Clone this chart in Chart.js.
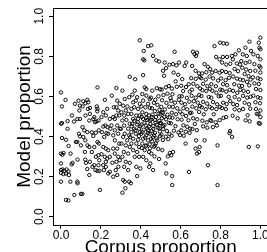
<!DOCTYPE html>
<html>
<head>
<meta charset="utf-8">
<script src="https://cdn.jsdelivr.net/npm/chart.js@4/dist/chart.umd.min.js"></script>
<style>
html,body{margin:0;padding:0;background:#fff;overflow:hidden;width:267px;height:252px;}
#c{display:block;}
</style>
</head>
<body>
<canvas id="c" width="271" height="262"></canvas>
<script>
// Tick labels
const xTickValues = [0, 0.2, 0.4, 0.6, 0.8, 1.0];
const yTickValues = [0, 0.2, 0.4, 0.6, 0.8, 1.0];
const xTitle = "Corpus proportion";
const yTitle = "Model proportion";

// [corpus proportion, model proportion] pairs, grouped by corpus-proportion band
const band00 = [[0.000,0.620],[0.005,0.550],[0.023,0.583],[0.005,0.467],[0.000,0.464],[0.033,0.477],[0.033,0.439],[0.005,0.393],[0.025,0.384],[0.000,0.315],[0.007,0.309],[0.013,0.318],[0.000,0.266],[0.008,0.236],[0.017,0.229],[0.028,0.236],[0.000,0.219],[0.012,0.213],[0.025,0.216],[0.038,0.226],[0.040,0.208],[0.000,0.175],[0.047,0.175],[0.025,0.084],[0.037,0.081],[0.048,0.315],[0.038,0.353],[0.000,0.233]];
const band05 = [[0.055,0.505],[0.065,0.475],[0.070,0.563],[0.088,0.579],[0.092,0.530],[0.095,0.554],[0.082,0.487],[0.095,0.488],[0.058,0.269],[0.053,0.261],[0.067,0.109],[0.082,0.175],[0.083,0.167],[0.100,0.114],[0.107,0.114],[0.082,0.373],[0.090,0.414],[0.095,0.401],[0.100,0.356],[0.083,0.285],[0.075,0.373]];
const band10 = [[0.112,0.576],[0.122,0.566],[0.132,0.583],[0.137,0.571],[0.108,0.550],[0.135,0.538],[0.145,0.543],[0.123,0.505],[0.145,0.513],[0.142,0.480],[0.132,0.422],[0.117,0.431],[0.112,0.398],[0.122,0.381],[0.133,0.356],[0.142,0.348],[0.122,0.285],[0.125,0.269],[0.145,0.274],[0.142,0.208],[0.132,0.238],[0.120,0.323],[0.108,0.447]];
const band15 = [[0.183,0.645],[0.180,0.550],[0.183,0.538],[0.182,0.526],[0.167,0.497],[0.162,0.488],[0.178,0.475],[0.188,0.480],[0.170,0.472],[0.155,0.421],[0.162,0.403],[0.175,0.419],[0.190,0.431],[0.183,0.373],[0.190,0.365],[0.167,0.348],[0.188,0.307],[0.175,0.299],[0.192,0.282],[0.155,0.323],[0.173,0.233],[0.183,0.229],[0.193,0.229],[0.195,0.134],[0.167,0.257],[0.188,0.257],[0.158,0.249]];
const band20 = [[0.220,0.583],[0.232,0.538],[0.212,0.521],[0.203,0.497],[0.225,0.505],[0.223,0.455],[0.212,0.450],[0.233,0.447],[0.245,0.488],[0.205,0.422],[0.228,0.417],[0.217,0.398],[0.237,0.414],[0.248,0.439],[0.212,0.348],[0.225,0.340],[0.237,0.332],[0.203,0.312],[0.220,0.299],[0.232,0.290],[0.245,0.299],[0.212,0.257],[0.225,0.274],[0.237,0.216],[0.245,0.224],[0.225,0.249],[0.215,0.233]];
const band25 = [[0.278,0.642],[0.255,0.604],[0.282,0.579],[0.265,0.546],[0.278,0.546],[0.287,0.530],[0.295,0.563],[0.262,0.497],[0.270,0.488],[0.278,0.505],[0.292,0.505],[0.253,0.455],[0.270,0.431],[0.282,0.455],[0.295,0.439],[0.262,0.406],[0.287,0.414],[0.270,0.381],[0.262,0.340],[0.282,0.340],[0.292,0.365],[0.270,0.315],[0.287,0.299],[0.258,0.269],[0.278,0.274],[0.295,0.282],[0.275,0.233],[0.288,0.249],[0.262,0.200],[0.282,0.208]];
const band30 = [[0.308,0.629],[0.320,0.587],[0.342,0.596],[0.312,0.554],[0.333,0.550],[0.325,0.530],[0.303,0.521],[0.317,0.505],[0.337,0.513],[0.308,0.480],[0.328,0.483],[0.345,0.464],[0.317,0.455],[0.300,0.439],[0.337,0.439],[0.320,0.414],[0.312,0.398],[0.342,0.406],[0.332,0.381],[0.303,0.365],[0.325,0.356],[0.345,0.348],[0.315,0.323],[0.337,0.315],[0.308,0.299],[0.325,0.274],[0.345,0.269],[0.317,0.249],[0.337,0.233],[0.312,0.183],[0.320,0.175],[0.308,0.120],[0.323,0.142],[0.342,0.175],[0.350,0.167],[0.345,0.698]];
const band35 = [[0.372,0.686],[0.358,0.609],[0.370,0.629],[0.382,0.596],[0.362,0.571],[0.375,0.579],[0.395,0.563],[0.353,0.538],[0.367,0.546],[0.387,0.538],[0.353,0.513],[0.378,0.505],[0.395,0.505],[0.362,0.488],[0.387,0.488],[0.358,0.464],[0.382,0.460],[0.367,0.439],[0.392,0.439],[0.353,0.422],[0.375,0.414],[0.395,0.422],[0.362,0.389],[0.387,0.384],[0.353,0.365],[0.378,0.365],[0.392,0.348],[0.362,0.332],[0.382,0.323],[0.370,0.299],[0.392,0.299],[0.378,0.249],[0.398,0.241],[0.382,0.203],[0.395,0.880],[0.415,0.827],[0.412,0.785],[0.418,0.780],[0.412,0.706]];
const band40 = [[0.437,0.851],[0.453,0.855],[0.420,0.645],[0.428,0.637],[0.408,0.612],[0.428,0.604],[0.445,0.587],[0.412,0.579],[0.437,0.563],[0.403,0.550],[0.423,0.546],[0.445,0.543],[0.408,0.521],[0.428,0.513],[0.442,0.505],[0.412,0.488],[0.432,0.483],[0.445,0.480],[0.403,0.460],[0.425,0.455],[0.442,0.450],[0.415,0.434],[0.437,0.431],[0.403,0.414],[0.428,0.406],[0.445,0.414],[0.412,0.389],[0.437,0.381],[0.408,0.365],[0.428,0.356],[0.445,0.361],[0.420,0.332],[0.442,0.323],[0.453,0.315],[0.412,0.299],[0.428,0.282],[0.448,0.266],[0.462,0.233],[0.442,0.249]];
const bandCore = [[0.385,0.472],[0.398,0.451],[0.405,0.498],[0.418,0.467],[0.427,0.493],[0.433,0.441],[0.448,0.463],[0.455,0.497],[0.463,0.438],[0.472,0.482],[0.481,0.459],[0.489,0.513],[0.497,0.467],[0.505,0.521],[0.512,0.452],[0.518,0.498],[0.391,0.402],[0.409,0.421],[0.422,0.395],[0.436,0.418],[0.451,0.389],[0.467,0.407],[0.483,0.381],[0.494,0.441],[0.372,0.431],[0.368,0.478],[0.355,0.451],[0.347,0.397],[0.425,0.352],[0.446,0.341],[0.471,0.355],[0.405,0.343]];
const band45 = [[0.462,0.802],[0.478,0.780],[0.492,0.774],[0.458,0.629],[0.481,0.641],[0.497,0.636],[0.451,0.594],[0.473,0.583],[0.489,0.601],[0.466,0.568],[0.484,0.558],[0.456,0.541],[0.471,0.527],[0.494,0.533],[0.459,0.509],[0.477,0.497],[0.499,0.511],[0.452,0.484],[0.474,0.469],[0.493,0.478],[0.463,0.452],[0.485,0.444],[0.455,0.429],[0.471,0.418],[0.496,0.425],[0.461,0.396],[0.479,0.391],[0.497,0.402],[0.457,0.376],[0.476,0.366],[0.466,0.349],[0.488,0.338],[0.469,0.301],[0.492,0.288]];
const band50 = [[0.520,0.769],[0.512,0.728],[0.517,0.703],[0.527,0.741],[0.544,0.758],[0.505,0.634],[0.526,0.645],[0.541,0.652],[0.514,0.607],[0.534,0.614],[0.549,0.592],[0.507,0.581],[0.529,0.568],[0.503,0.548],[0.521,0.535],[0.543,0.549],[0.511,0.519],[0.534,0.509],[0.506,0.491],[0.527,0.486],[0.546,0.496],[0.502,0.466],[0.519,0.457],[0.541,0.468],[0.513,0.437],[0.531,0.428],[0.504,0.409],[0.526,0.399],[0.544,0.413],[0.511,0.383],[0.538,0.387],[0.508,0.332],[0.525,0.266],[0.528,0.216],[0.536,0.301],[0.546,0.318]];
const band55 = [[0.570,0.823],[0.562,0.761],[0.579,0.755],[0.592,0.769],[0.565,0.719],[0.575,0.675],[0.588,0.708],[0.556,0.639],[0.581,0.648],[0.559,0.611],[0.594,0.601],[0.553,0.578],[0.572,0.569],[0.591,0.583],[0.561,0.548],[0.583,0.541],[0.556,0.519],[0.577,0.511],[0.597,0.524],[0.559,0.494],[0.585,0.486],[0.551,0.466],[0.574,0.452],[0.566,0.429],[0.589,0.420],[0.555,0.404],[0.597,0.407],[0.562,0.323],[0.553,0.307],[0.558,0.203],[0.558,0.158]];
const band60 = [[0.620,0.752],[0.628,0.769],[0.608,0.686],[0.603,0.653],[0.627,0.647],[0.641,0.661],[0.613,0.627],[0.646,0.624],[0.606,0.601],[0.631,0.593],[0.604,0.569],[0.622,0.561],[0.644,0.574],[0.614,0.541],[0.633,0.536],[0.609,0.511],[0.627,0.503],[0.647,0.517],[0.605,0.484],[0.639,0.481],[0.614,0.456],[0.633,0.449],[0.603,0.431],[0.626,0.424],[0.645,0.418],[0.616,0.404],[0.625,0.365],[0.642,0.224],[0.648,0.439]];
const band65 = [[0.662,0.823],[0.682,0.818],[0.670,0.810],[0.678,0.802],[0.658,0.752],[0.675,0.728],[0.692,0.715],[0.653,0.691],[0.676,0.688],[0.696,0.697],[0.664,0.663],[0.684,0.651],[0.657,0.634],[0.698,0.639],[0.655,0.603],[0.676,0.594],[0.693,0.607],[0.666,0.576],[0.686,0.569],[0.659,0.549],[0.679,0.541],[0.697,0.552],[0.654,0.519],[0.693,0.523],[0.663,0.491],[0.683,0.486],[0.671,0.463],[0.659,0.438],[0.681,0.432],[0.675,0.340],[0.682,0.315],[0.692,0.323],[0.678,0.381],[0.695,0.348]];
const band70 = [[0.720,0.761],[0.737,0.748],[0.708,0.715],[0.729,0.721],[0.748,0.736],[0.703,0.691],[0.726,0.684],[0.745,0.699],[0.713,0.663],[0.734,0.651],[0.709,0.631],[0.729,0.627],[0.747,0.638],[0.704,0.602],[0.741,0.597],[0.713,0.573],[0.733,0.564],[0.706,0.546],[0.726,0.536],[0.746,0.548],[0.716,0.511],[0.709,0.479],[0.731,0.471],[0.749,0.482],[0.713,0.451],[0.734,0.444],[0.737,0.257],[0.720,0.381]];
const band75 = [[0.770,0.851],[0.798,0.868],[0.815,0.865],[0.832,0.863],[0.778,0.797],[0.795,0.785],[0.758,0.719],[0.776,0.727],[0.796,0.718],[0.763,0.690],[0.788,0.679],[0.754,0.661],[0.777,0.651],[0.759,0.628],[0.779,0.619],[0.799,0.634],[0.754,0.594],[0.791,0.601],[0.763,0.572],[0.783,0.561],[0.757,0.541],[0.779,0.537],[0.797,0.548],[0.766,0.511],[0.754,0.478],[0.776,0.471],[0.796,0.482],[0.782,0.455],[0.785,0.356],[0.785,0.158],[0.762,0.447]];
const band80 = [[0.812,0.797],[0.833,0.797],[0.857,0.802],[0.808,0.769],[0.829,0.759],[0.849,0.763],[0.807,0.727],[0.827,0.722],[0.846,0.717],[0.803,0.690],[0.826,0.681],[0.843,0.693],[0.813,0.661],[0.833,0.656],[0.809,0.631],[0.829,0.624],[0.846,0.633],[0.802,0.603],[0.841,0.598],[0.813,0.569],[0.831,0.562],[0.849,0.577],[0.807,0.542],[0.827,0.537],[0.815,0.493],[0.828,0.497],[0.845,0.417],[0.848,0.427]];
const band85 = [[0.875,0.810],[0.892,0.830],[0.862,0.785],[0.882,0.764],[0.898,0.759],[0.871,0.737],[0.888,0.726],[0.863,0.699],[0.883,0.689],[0.899,0.684],[0.869,0.661],[0.893,0.654],[0.863,0.628],[0.884,0.618],[0.899,0.633],[0.871,0.597],[0.893,0.585],[0.864,0.562],[0.883,0.557],[0.871,0.536],[0.894,0.531],[0.861,0.504],[0.886,0.491],[0.858,0.398]];
const band90 = [[0.925,0.843],[0.945,0.873],[0.912,0.810],[0.932,0.802],[0.953,0.827],[0.904,0.776],[0.926,0.767],[0.946,0.773],[0.909,0.743],[0.929,0.734],[0.949,0.727],[0.921,0.712],[0.941,0.701],[0.913,0.681],[0.933,0.673],[0.951,0.684],[0.908,0.652],[0.944,0.655],[0.916,0.628],[0.938,0.623],[0.913,0.603],[0.934,0.594],[0.951,0.598],[0.921,0.569],[0.943,0.561],[0.913,0.537],[0.949,0.539],[0.936,0.506],[0.926,0.481],[0.946,0.476],[0.942,0.348]];
const band95 = [[1.000,0.893],[0.992,0.868],[0.995,0.843],[1.000,0.835],[0.965,0.810],[0.987,0.802],[1.000,0.785],[0.970,0.761],[0.995,0.752],[1.000,0.744],[0.975,0.728],[1.000,0.719],[0.962,0.695],[0.987,0.691],[1.000,0.686],[0.970,0.665],[0.992,0.662],[0.978,0.637],[1.000,0.632],[0.965,0.604],[0.987,0.596],[1.000,0.592],[0.975,0.571],[0.998,0.566],[0.978,0.538],[1.000,0.530],[0.982,0.513],[0.990,0.513],[1.000,0.497],[0.992,0.467],[0.998,0.464],[0.987,0.351]];

const allPairs = [].concat(band00, band05, band10, band15, band20, band25, band30, band35, band40, bandCore, band45,
  band50, band55, band60, band65, band70, band75, band80, band85, band90, band95);
const points = allPairs.map(p => ({x: p[0], y: p[1]}));

const FONT = "'Liberation Sans', Arial, Helvetica, sans-serif";

const boxPlugin = {
  id: 'box',
  afterDatasetsDraw(chart) {
    const a = chart.chartArea, ctx = chart.ctx;
    ctx.save();
    ctx.strokeStyle = '#000';
    ctx.lineWidth = 1;
    ctx.strokeRect(Math.round(a.left) + 0.5, Math.round(a.top) + 0.5,
      Math.round(a.right - a.left), Math.round(a.bottom - a.top));
    ctx.restore();
  }
};

new Chart(document.getElementById('c'), {
  type: 'scatter',
  data: {
    datasets: [{
      data: points,
      pointStyle: 'circle',
      pointRadius: 1.7,
      pointBorderWidth: 0.95,
      pointBorderColor: '#000',
      pointBackgroundColor: 'rgba(0,0,0,0)',
      pointHoverRadius: 1.7
    }]
  },
  options: {
    responsive: false,
    animation: false,
    events: [],
    layout: { padding: { top: 7, right: 2, left: 0, bottom: 0 } },
    plugins: { legend: { display: false }, tooltip: { enabled: false } },
    scales: {
      x: {
        type: 'linear',
        min: -0.04, max: 1.04,
        afterFit: s => { s.height = 37.2; },
        afterBuildTicks: s => { s.ticks = xTickValues.map(v => ({value: v})); },
        border: { display: false },
        grid: { drawOnChartArea: false, drawTicks: true, tickLength: 4, color: '#000', lineWidth: 1 },
        ticks: {
          color: '#000', padding: 0, maxRotation: 0, autoSkip: false,
          font: { family: FONT, size: 12 },
          callback: v => Number(v).toFixed(1)
        },
        title: {
          display: true, text: xTitle, color: '#000',
          font: { family: FONT, size: 19 },
          padding: { top: 0, bottom: 2.6 }
        }
      },
      y: {
        type: 'linear',
        min: -0.04, max: 1.04,
        afterFit: s => { s.width = 53; },
        afterBuildTicks: s => { s.ticks = yTickValues.map(v => ({value: v})); },
        border: { display: false },
        grid: { drawOnChartArea: false, drawTicks: true, tickLength: 4, color: '#000', lineWidth: 1 },
        ticks: {
          color: '#000', padding: 1, minRotation: 90, maxRotation: 90, crossAlign: 'center', autoSkip: false,
          font: { family: FONT, size: 12 },
          callback: v => Number(v).toFixed(1)
        },
        title: {
          display: true, text: yTitle, color: '#000',
          font: { family: FONT, size: 19 },
          padding: { top: 13, bottom: 0 }
        }
      }
    }
  },
  plugins: [boxPlugin]
});
</script>
</body>
</html>
